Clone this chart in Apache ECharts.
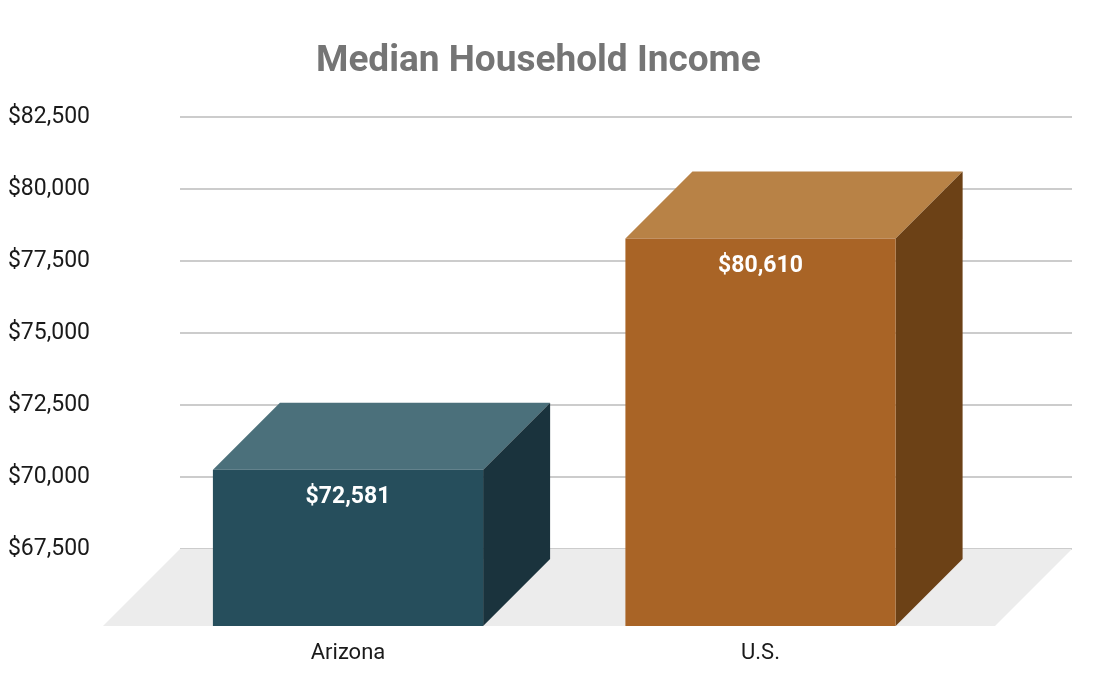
<!DOCTYPE html>
<html>
<head>
<meta charset="utf-8">
<script src="https://cdn.jsdelivr.net/npm/echarts@6/dist/echarts.min.js"></script>
<style>html,body{margin:0;padding:0;background:#fff}#c{width:1102px;height:700px}</style>
</head>
<body>
<div id="c"></div>
<script>
const categories = ['Arizona', 'U.S.'];
const values = [72581, 80610];
const valueLabels = ['$72,581', '$80,610'];
const yMin = 67500, yMax = 82500, yStep = 2500;

const faceColors = [
  { front: '#264e5c', top: '#4b707b', side: '#1a333d' },
  { front: '#a96426', top: '#b88246', side: '#6c4116' }
];
const FLOOR_DEPTH = 77, BAR_DEPTH = 67;

const chart = echarts.init(document.getElementById('c'), null, { renderer: 'canvas' });
const fmt = v => '$' + v.toLocaleString('en-US');

chart.setOption({
  backgroundColor: '#ffffff',
  animation: false,
  textStyle: { fontFamily: 'Roboto' },
  title: {
    text: 'Median Household Income',
    left: 311, top: 38,
    textStyle: { fontFamily: 'Roboto', fontSize: 37, fontWeight: 'bold', color: '#757575' }
  },
  grid: [
    { left: 180, right: 30, top: 117, bottom: 151 },
    { left: 141.75, right: 135.25, top: 117, bottom: 151 }
  ],
  xAxis: [
    { gridIndex: 0, type: 'category', data: categories, show: false },
    { gridIndex: 1, type: 'category', data: categories, offset: FLOOR_DEPTH,
      axisLine: { show: false }, axisTick: { show: false },
      axisLabel: { margin: 16, fontSize: 22, color: '#1a1a1a', fontFamily: 'Roboto' } }
  ],
  yAxis: [
    { gridIndex: 0, type: 'value', min: yMin, max: yMax, interval: yStep,
      axisLine: { show: false }, axisTick: { show: false },
      axisLabel: { margin: 90, fontSize: 23, color: '#1a1a1a', fontFamily: 'Roboto', formatter: fmt },
      splitLine: { lineStyle: { color: '#cccccc', width: 2 } } },
    { gridIndex: 1, type: 'value', min: yMin, max: yMax, interval: yStep, show: false,
      splitLine: { show: false } }
  ],
  series: [
    {
      type: 'custom', xAxisIndex: 0, yAxisIndex: 0, z: 1, silent: true,
      data: [[0, yMin]],
      renderItem: function (params, api) {
        const cs = params.coordSys;
        const yb = api.coord([0, yMin])[1];
        return {
          type: 'polygon',
          shape: { points: [
            [cs.x, yb], [cs.x + cs.width, yb],
            [cs.x + cs.width - FLOOR_DEPTH, yb + FLOOR_DEPTH], [cs.x - FLOOR_DEPTH, yb + FLOOR_DEPTH]
          ] },
          style: { fill: '#ececec' }
        };
      }
    },
    {
      type: 'custom', xAxisIndex: 1, yAxisIndex: 1, z: 3, silent: true,
      data: categories.map((c, i) => [i, values[i]]),
      renderItem: function (params, api) {
        const i = params.dataIndex;
        const top = api.coord([api.value(0), api.value(1)]);
        const base = api.coord([api.value(0), yMin])[1] + FLOOR_DEPTH;
        const w = api.size([1, 0])[0] * 0.655;
        const cx = top[0];
        const x0 = cx - w / 2, x1 = cx + w / 2, D = BAR_DEPTH;
        const yb = top[1], yf = yb + D;
        const col = faceColors[i];
        return {
          type: 'group',
          children: [
            { type: 'polygon', shape: { points: [[x0, yf], [x0 + D, yb], [x1 + D, yb], [x1, yf]] },
              style: { fill: col.top } },
            { type: 'polygon', shape: { points: [[x1, yf], [x1 + D, yb], [x1 + D, base - D], [x1, base]] },
              style: { fill: col.side } },
            { type: 'rect', shape: { x: x0, y: yf, width: w, height: base - yf },
              style: { fill: col.front } },
            { type: 'text', x: cx, y: yf + 28,
              style: { text: valueLabels[i], fill: '#ffffff', font: 'bold 23px Roboto',
                       align: 'center', verticalAlign: 'middle' } }
          ]
        };
      }
    }
  ]
});
</script>
</body>
</html>
